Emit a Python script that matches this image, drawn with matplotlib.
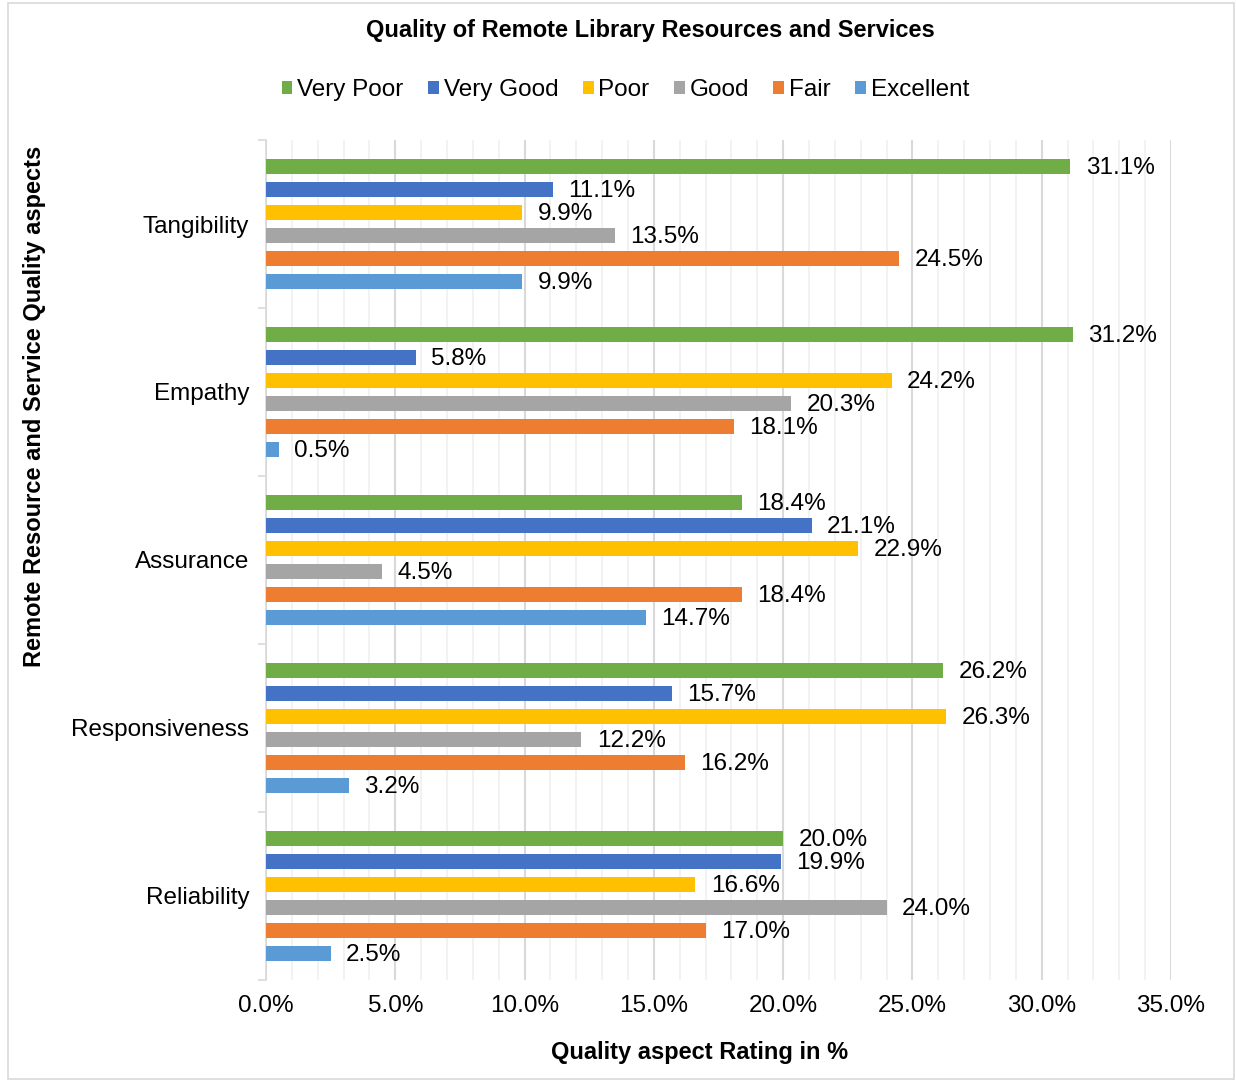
import numpy as np
import matplotlib.pyplot as plt
from matplotlib.patches import Rectangle
from matplotlib.ticker import MultipleLocator, FuncFormatter

plt.rcParams['font.family'] = ['Liberation Sans', 'DejaVu Sans']

aspects = ['Tangibility', 'Empathy', 'Assurance', 'Responsiveness', 'Reliability']
ratings = ['Very Poor', 'Very Good', 'Poor', 'Good', 'Fair', 'Excellent']
colors = ['#70AD47', '#4472C4', '#FFC000', '#A5A5A5', '#ED7D31', '#5B9BD5']

very_poor = [31.1, 31.2, 18.4, 26.2, 20.0]
very_good = [11.1, 5.8, 21.1, 15.7, 19.9]
poor = [9.9, 24.2, 22.9, 26.3, 16.6]
good = [13.5, 20.3, 4.5, 12.2, 24.0]
fair = [24.5, 18.1, 18.4, 16.2, 17.0]
excellent = [9.9, 0.5, 14.7, 3.2, 2.5]
series = [very_poor, very_good, poor, good, fair, excellent]

fig = plt.figure(figsize=(12.36, 10.82), dpi=100)
ax = fig.add_axes([0.2152, 0.0943, 0.7322, 0.7763])

centers = np.arange(len(aspects))
step = 0.137
height = 0.09
for i, (vals, name, c) in enumerate(zip(series, ratings, colors)):
    y = centers + (i - 2.5) * step
    ax.barh(y, vals, height=height, color=c, label=name, zorder=3)
    for yy, v in zip(y, vals):
        ax.text(v + 0.6, yy + 0.01, f'{v:.1f}%', va='center', ha='left', fontsize=17.5, zorder=4)

ax.set_ylim(len(aspects) - 0.5, -0.5)
ax.set_xlim(0, 35)
ax.xaxis.set_major_locator(MultipleLocator(5))
ax.xaxis.set_minor_locator(MultipleLocator(1))
ax.xaxis.set_major_formatter(FuncFormatter(lambda v, p: f'{v:.1f}%'))
ax.grid(axis='x', which='major', color='#D9D9D9', linewidth=1.5, zorder=0)
ax.grid(axis='x', which='minor', color='#F0F0F0', linewidth=1.2, zorder=0)
ax.tick_params(axis='x', which='both', length=0, labelsize=17.5, pad=11)

ax.set_yticks(centers)
ax.set_yticklabels(aspects, fontsize=17.5)
ax.set_yticks(np.arange(len(aspects) + 1) - 0.5, minor=True)
ax.tick_params(axis='y', which='major', length=0, pad=12)
ax.tick_params(axis='y', which='minor', length=6, color='#D9D9D9', width=1.2)
for s in ['top', 'right', 'bottom']:
    ax.spines[s].set_visible(False)
ax.spines['left'].set_color('#D9D9D9')
ax.spines['left'].set_linewidth(1.2)

fig.text(0.526, 1 - 30 / 1082, 'Quality of Remote Library Resources and Services',
         ha='center', va='center', fontsize=17, fontweight='bold')
fig.text(0.566, 1 - 1052 / 1082, 'Quality aspect Rating in %',
         ha='center', va='center', fontsize=17, fontweight='bold')
fig.text(35 / 1236, 1 - 406 / 1082, 'Remote Resource and Service Quality aspects',
         ha='center', va='center', rotation=90, fontsize=17, fontweight='bold')

fig.legend(loc='center', bbox_to_anchor=(0.506, 1 - 90 / 1082), ncol=6, frameon=False,
           fontsize=17.5, handlelength=0.45, handleheight=0.45, handletextpad=0.2,
           columnspacing=1.0)

fig.patches.append(Rectangle((8 / 1236, 3 / 1082), 1226 / 1236, 1076 / 1082,
                             transform=fig.transFigure, fill=False,
                             edgecolor='#D9D9D9', linewidth=1.2))

fig.savefig('out.png', dpi=100)
